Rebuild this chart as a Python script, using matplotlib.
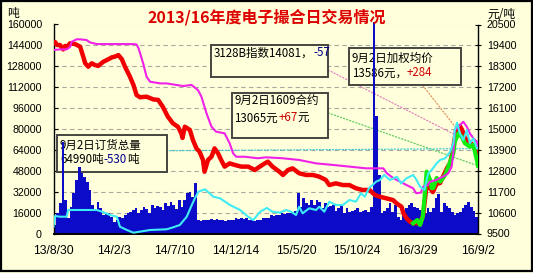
import matplotlib
matplotlib.use('Agg')
import matplotlib.pyplot as plt
import numpy as np
from datetime import datetime
from matplotlib.patches import Rectangle
from matplotlib.lines import Line2D

plt.rcParams['font.family'] = ['Noto Sans CJK SC', 'DejaVu Sans']
plt.rcParams['axes.unicode_minus'] = False

# ---------------- data ----------------
title = "2013/16年度电子撮合日交易情况"
start_date = "13/8/30"
x_labels = ["13/8/30", "14/2/3", "14/7/10", "14/12/14", "15/5/20", "15/10/24", "16/3/29", "16/9/2"]
left_ticks = [0, 16000, 32000, 48000, 64000, 80000, 96000, 112000, 128000, 144000, 160000]
right_ticks = [9500, 10600, 11700, 12800, 13900, 15000, 16100, 17200, 18300, 19400, 20500]

# weekly traded volume (t), left axis
bar_week_days = 7
volume = [6400, 15400, 23000, 70000, 25600, 12000, 20500, 30700, 41000, 51000,
          46000, 43500, 39700, 33300, 21800, 17900, 24000, 19200, 14000, 15400,
          16000, 12800, 9000, 10200, 12800, 11500, 14000, 15400, 16600, 17900,
          19200, 16000, 17900, 20500, 18400, 16000, 21800, 19200, 21000, 20000,
          18000, 23000, 21000, 24300, 21800, 19000, 25600, 20500, 25600, 30700,
          32000, 28000, 38400, 10200, 9800, 10500, 10700, 10700, 11000, 10200,
          10900, 10700, 10200, 9900, 10500, 10200, 10000, 11500, 11000, 11800,
          11200, 11500, 10200, 10600, 9800, 10200, 10400, 11500, 12000, 11500,
          14000, 13200, 14500, 14000, 15400, 14800, 16000, 15400, 16600, 17500,
          30700, 20500, 26900, 23000, 22000, 25600, 21800, 25600, 24000, 19200,
          23000, 20500, 21000, 21800, 17500, 19200, 21800, 15400, 19200, 16600,
          17000, 17900, 19200, 16600, 17500, 17900, 16600, 20500, 162000, 90000,
          45000, 15400, 17000, 19200, 23000, 16600, 21800, 12800, 10200, 15000,
          19200, 21800, 23000, 20000, 19200, 17900, 12800, 15400, 19200, 16600,
          19200, 26900, 30000, 16600, 23000, 21000, 19200, 16600, 14000, 15400,
          16600, 19200, 21800, 24000, 20500, 17000, 12800]

# order total (t), left axis
cyan_day = [0, 4, 17, 34, 38, 69, 112, 128, 146, 164, 172, 190, 207, 250, 293, 310, 327, 345, 358, 366,
            375, 392, 414, 431, 457, 483, 504, 517, 535, 552, 567, 585, 602, 615, 628, 636, 645, 662, 680, 688,
            701, 714, 731, 749, 766, 783, 796, 806, 817, 826, 835, 845, 856, 871, 889, 900, 914, 931, 940, 949,
            960, 970, 979, 992, 1001, 1014, 1027, 1035, 1039, 1045, 1052, 1061, 1070, 1078, 1087, 1096, 1099]
cyan_val = [5200, 13400, 12860, 12860, 18000, 18000, 18000, 16460, 14160, 12860, 5200, 2680, 610, 2680, 3220, 4750, 6510, 12860, 21820, 26950,
            32000, 33840, 28170, 26950, 21820, 18000, 12860, 10330, 16690, 19520, 16690, 15920, 18000, 16690, 14160, 20520, 15460, 19290, 18000, 20520,
            16690, 24340, 21820, 21820, 25650, 24340, 30780, 28170, 34830, 37130, 39660, 40960, 44790, 40960, 43480, 38430, 42260, 44790, 40960, 35830,
            33300, 46090, 48610, 53740, 56300, 57570, 62620, 69050, 79230, 84820, 76710, 71580, 79230, 69050, 72880, 65220, 64990]

# weighted average price (yuan/t), right axis
red_day = [0, 4, 9, 17, 25, 30, 35, 43, 56, 69, 77, 82, 90, 99, 107, 116, 129, 142, 151, 159,
           168, 177, 185, 198, 207, 215, 224, 241, 258, 271, 283, 296, 309, 322, 331, 334, 340, 353, 361, 370,
           378, 387, 391, 400, 409, 417, 426, 434, 443, 456, 469, 486, 504, 521, 534, 547, 555, 567, 585, 594,
           607, 619, 636, 654, 672, 688, 705, 714, 731, 749, 766, 783, 800, 818, 832, 844, 862, 879, 888, 901,
           906, 914, 923, 931, 940, 949, 957, 966, 975, 982, 992, 1001, 1008, 1019, 1027, 1034, 1039, 1045, 1052, 1058,
           1065, 1071, 1079, 1086, 1095, 1099]
red_val = [19510, 19580, 19420, 19420, 19190, 19370, 19320, 19510, 19470, 19330, 18810, 18460, 18280, 18460, 18370, 18320, 18540, 18670, 18770, 18810,
           18890, 18670, 18280, 17750, 17320, 16790, 16670, 16700, 16560, 16530, 16170, 15650, 15300, 15120, 14770, 14530, 15120, 14950, 14420, 13980,
           13810, 13370, 12750, 13370, 13540, 13980, 13720, 13370, 13020, 13190, 13110, 13020, 13020, 12840, 13020, 13190, 13280, 13020, 12750, 12580,
           12840, 12930, 12670, 12580, 12580, 12490, 12320, 12050, 12140, 12050, 12050, 11880, 11790, 11790, 11530, 11440, 11350, 11260, 11090, 10910,
           10560, 10300, 10120, 10040, 10040, 10000, 10470, 12050, 11890, 11680, 12110, 12160, 12470, 12950, 13210, 13890, 14530, 15050, 15160, 14950,
           14530, 14420, 14260, 14160, 13790, 13586]

# 3128B index, right axis
mag_day = [0, 17, 34, 43, 47, 60, 69, 86, 94, 112, 146, 207, 215, 220, 224, 232, 241, 250, 276, 293,
           336, 357, 374, 383, 396, 409, 421, 443, 456, 465, 473, 495, 529, 550, 593, 636, 680, 723, 766, 809,
           854, 863, 880, 897, 914, 931, 939, 951, 957, 969, 975, 992, 999, 1009, 1022, 1031, 1035, 1039, 1048, 1061,
           1070, 1078, 1087, 1096, 1099]
mag_val = [19160, 19190, 19190, 19320, 19590, 19720, 19720, 19680, 19560, 19470, 19470, 19470, 19450, 19250, 19000, 18460, 17750, 17490, 17400, 17400,
           17260, 17320, 17050, 16700, 15830, 15120, 14860, 14770, 14250, 13720, 13540, 13540, 13460, 13510, 13460, 13370, 13190, 13110, 13020, 12930,
           12930, 12670, 12410, 12230, 12050, 11880, 11620, 11650, 11960, 12050, 12230, 12320, 12410, 12490, 12670, 13020, 13720, 14950, 15120, 15380,
           15120, 14770, 14510, 14330, 14081]

# 1609 contract, right axis
green_day = [931, 942, 949, 956, 960, 966, 975, 979, 983, 992, 1001, 1008, 1014, 1027, 1035, 1039, 1048, 1057, 1065, 1078,
             1087, 1096, 1099]
green_val = [10040, 10210, 9950, 10380, 11260, 12750, 12320, 11890, 11890, 12420, 12230, 12420, 12580, 13280, 13720, 14330, 14770, 14590, 14250, 14070,
             14160, 13370, 13065]

box_index = [["3128B指数14081，", "-57"]]
box_price = ["9月2日加权均价", ["13586元，", "+284"]]
box_contract = ["9月2日1609合约", ["13065元", "+67", "元"]]
box_orders = ["9月2日订货总量", ["64990吨", "-530", "吨"]]

# ---------------- styling ----------------
BG = '#FFFFDC'
BLUE = '#0B0BC8'
RED = '#F00000'
MAG = '#F020E8'
CYAN = '#40ECF4'
GREEN = '#10EE10'
TICKFONT = 'Liberation Sans'

W, H = 533, 273
fig = plt.figure(figsize=(W / 100, H / 100), dpi=100, facecolor=BG)
ax = fig.add_axes([53.5 / W, 39.5 / H, 424.5 / W, 209 / H])
ax.set_facecolor(BG)

base = datetime.strptime(start_date, "%y/%m/%d")
tick_days = [(datetime.strptime(s, "%y/%m/%d") - base).days for s in x_labels]
x_end = tick_days[-1]

bar_x = np.arange(len(volume)) * bar_week_days + bar_week_days / 2
ax.bar(bar_x, volume, width=bar_week_days, color=BLUE, linewidth=0, zorder=2, clip_on=False)

ax.set_xlim(0, x_end)
ax.set_ylim(left_ticks[0], left_ticks[-1])
ax.set_yticks(left_ticks)
ax.set_yticklabels([str(v) for v in left_ticks])
ax.set_xticks(tick_days)
ax.set_xticklabels(x_labels)
ax.set_axisbelow(True)
ax.yaxis.grid(True, linestyle=(0, (4, 3)), color='#A9A9A0', linewidth=0.8)

ax2 = ax.twinx()
ax2.set_ylim(right_ticks[0], right_ticks[-1])
ax2.set_yticks(right_ticks)
ax2.set_yticklabels([str(v) for v in right_ticks])

ax2.plot(red_day, red_val, color=RED, lw=3.2, solid_joinstyle='round', zorder=3)
ax2.plot(green_day, green_val, color=GREEN, lw=3.0, solid_joinstyle='round', zorder=4)
ax2.plot(mag_day, mag_val, color=MAG, lw=1.5, zorder=5)
ax2.add_line(Line2D(cyan_day, cyan_val, color=CYAN, lw=1.5, transform=ax.transData, zorder=6))

for s in ['top', 'right']:
    ax.spines[s].set_visible(False)
for s in ['top', 'left', 'bottom']:
    ax2.spines[s].set_visible(False)
ax.spines['left'].set_linewidth(1.0)
ax.spines['bottom'].set_linewidth(1.4)
ax2.spines['right'].set_linewidth(1.0)

ax.tick_params(axis='y', direction='in', length=2.9, width=0.8, pad=8.3,
               labelsize=7.7, labelfontfamily=TICKFONT)
ax.tick_params(axis='x', direction='in', length=2.5, width=0.8, pad=8.3,
               labelsize=8.7, labelfontfamily=TICKFONT)
ax2.tick_params(axis='y', direction='inout', length=4, width=0.8, pad=4.3,
                labelsize=7.7, labelfontfamily=TICKFONT)

# ---------------- annotation boxes ----------------
def box(x0, y0, x1, y1):
    ax.add_patch(Rectangle((x0, y0), x1 - x0, y1 - y0, transform=ax.transAxes,
                           facecolor=BG, edgecolor='#454540', lw=1.4, zorder=1.2))

def colored_line(x, y, parts, colors, fs=8.3):
    t = ax.text(x, y, parts[0], transform=ax.transAxes, ha='left', va='center',
                fontsize=fs, color=colors[0], zorder=1.5)
    for p, c in zip(parts[1:], colors[1:]):
        t = ax.annotate(p, xy=(1, 0), xycoords=t, ha='left', va='bottom',
                        fontsize=fs, color=c, zorder=1.5)

def leader(fx, fy, xe, ye, trans, color):
    ax.annotate('', xy=(xe, ye), xycoords=trans, xytext=(fx, fy), textcoords='axes fraction',
                arrowprops=dict(arrowstyle='-', color=color, lw=0.9, linestyle=(0, (1, 1.6)),
                                shrinkA=0, shrinkB=0), zorder=1.1)

NAVY = '#000090'
DRED = '#D00000'

leader(0.647, 0.782, mag_day[-1], mag_val[-1], ax2.transData, '#E080C0')
leader(0.870, 0.708, red_day[-1], red_val[-1], ax2.transData, '#E09060')
leader(0.647, 0.577, green_day[-1], green_val[-1], ax2.transData, '#60CC60')
leader(0.2667, 0.396, cyan_day[-1], cyan_val[-1], ax.transData, '#40C8D0')

box(0.371, 0.750, 0.647, 0.902)
colored_line(0.378, 0.864, box_index[0], ['black', NAVY])

box(0.696, 0.7105, 0.959, 0.886)
colored_line(0.703, 0.840, [box_price[0]], ['black'])
colored_line(0.703, 0.769, box_price[1], ['black', DRED])

box(0.420, 0.4555, 0.647, 0.671)
colored_line(0.4264, 0.631, [box_contract[0]], ['black'])
colored_line(0.4264, 0.553, box_contract[1], ['black', DRED, 'black'])

box(0.009, 0.2957, 0.2667, 0.4713)
colored_line(0.0153, 0.4234, [box_orders[0]], ['black'])
colored_line(0.0153, 0.3517, box_orders[1], ['black', NAVY, 'black'])

# ---------------- titles ----------------
fig.text(266.5 / W, 1 - 17 / H, title, ha='center', va='center', fontsize=11.5,
         fontweight='bold', color='#DD0000')
fig.text(12.5 / W, 1 - 14 / H, '吨', ha='center', va='center', fontsize=8.5)
fig.text(501.5 / W, 1 - 14.5 / H, '元/吨', ha='center', va='center', fontsize=8.5)

fig.add_artist(Rectangle((0.8 / W, 2.0 / H), (W - 1.8) / W, (H - 2.8) / H, transform=fig.transFigure,
                         fill=False, edgecolor='black', lw=1.6))

fig.savefig('out.png', dpi=100, facecolor=BG)
